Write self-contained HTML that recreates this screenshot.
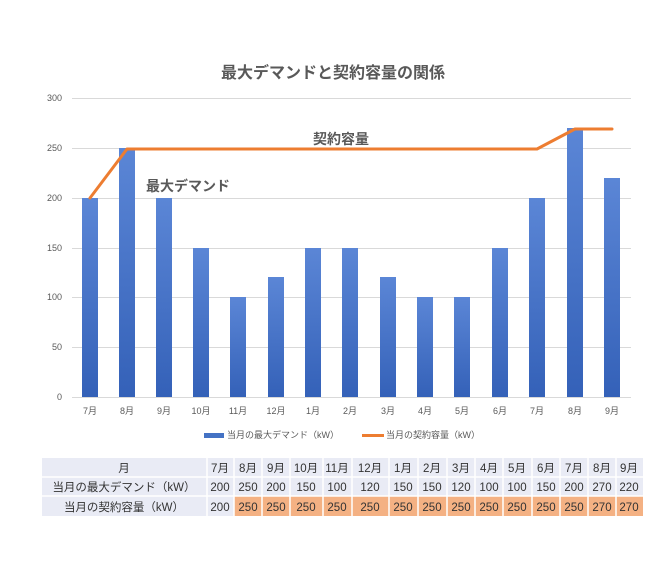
<!DOCTYPE html>
<html><head><meta charset="utf-8"><style>
html,body{margin:0;padding:0;background:#fff}
svg{display:block;font-family:"Liberation Sans","Noto Sans CJK JP",sans-serif}
</style></head><body>
<svg width="667" height="563" viewBox="0 0 667 563">
<defs>
<linearGradient id="bg" x1="0" y1="0" x2="0" y2="1">
<stop offset="0" stop-color="#5b86d6"/><stop offset="1" stop-color="#3461b8"/>
</linearGradient>
</defs>
<text x="333" y="78" text-anchor="middle" font-size="16" font-weight="bold" fill="#595959">最大デマンドと契約容量の関係</text>
<g stroke="#d9d9d9" stroke-width="1">
<line x1="72" x2="631" y1="98.5" y2="98.5"/>
<line x1="72" x2="631" y1="148.5" y2="148.5"/>
<line x1="72" x2="631" y1="198.5" y2="198.5"/>
<line x1="72" x2="631" y1="248.5" y2="248.5"/>
<line x1="72" x2="631" y1="297.5" y2="297.5"/>
<line x1="72" x2="631" y1="347.5" y2="347.5"/>
<line x1="72" x2="631" y1="397.5" y2="397.5"/>
</g>
<g font-size="9" fill="#595959" text-anchor="end">
<text x="62" y="101">300</text><text x="62" y="151">250</text><text x="62" y="201">200</text>
<text x="62" y="251">150</text><text x="62" y="300">100</text><text x="62" y="350">50</text><text x="62" y="400">0</text>
</g>
<g fill="url(#bg)">
<rect x="82" y="198" width="16" height="199"/>
<rect x="119" y="148" width="16" height="249"/>
<rect x="156" y="198" width="16" height="199"/>
<rect x="193" y="248" width="16" height="149"/>
<rect x="230" y="297" width="16" height="100"/>
<rect x="268" y="277" width="16" height="120"/>
<rect x="305" y="248" width="16" height="149"/>
<rect x="342" y="248" width="16" height="149"/>
<rect x="380" y="277" width="16" height="120"/>
<rect x="417" y="297" width="16" height="100"/>
<rect x="454" y="297" width="16" height="100"/>
<rect x="492" y="248" width="16" height="149"/>
<rect x="529" y="198" width="16" height="199"/>
<rect x="567" y="128" width="16" height="269"/>
<rect x="604" y="178" width="16" height="219"/>
</g>
<polyline points="90,198 127,149 537,149 575,129 612,129" fill="none" stroke="#ed7d31" stroke-width="3" stroke-linejoin="round" stroke-linecap="round"/>
<text x="341" y="144" text-anchor="middle" font-size="14" font-weight="bold" fill="#595959">契約容量</text>
<text x="188" y="191" text-anchor="middle" font-size="14" font-weight="bold" fill="#595959">最大デマンド</text>
<g font-size="9" fill="#595959" text-anchor="middle">
<text x="90" y="414">7月</text><text x="127" y="414">8月</text><text x="164" y="414">9月</text>
<text x="201" y="414">10月</text><text x="238" y="414">11月</text><text x="276" y="414">12月</text>
<text x="313" y="414">1月</text><text x="350" y="414">2月</text><text x="388" y="414">3月</text>
<text x="425" y="414">4月</text><text x="462" y="414">5月</text><text x="500" y="414">6月</text>
<text x="537" y="414">7月</text><text x="575" y="414">8月</text><text x="612" y="414">9月</text>
</g>
<rect x="204" y="433" width="20" height="5" fill="#4472c4"/>
<text x="227" y="438" font-size="9" fill="#595959">当月の最大デマンド（kW）</text>
<line x1="362" x2="384" y1="435.5" y2="435.5" stroke="#ed7d31" stroke-width="3"/>
<text x="386" y="438" font-size="9" fill="#595959">当月の契約容量（kW）</text>

<g id="tbl">
<rect x="42" y="458" width="601" height="58" fill="#e9ebf5"/>
<rect x="234" y="496" width="409" height="20" fill="#f4b183"/>
<g stroke="#fff" stroke-width="1.5">
<line x1="42" x2="643" y1="477" y2="477"/><line x1="42" x2="643" y1="496" y2="496"/>
<line x1="207" x2="207" y1="458" y2="516"/><line x1="234" x2="234" y1="458" y2="516"/>
<line x1="262" x2="262" y1="458" y2="516"/><line x1="290" x2="290" y1="458" y2="516"/>
<line x1="323" x2="323" y1="458" y2="516"/><line x1="352" x2="352" y1="458" y2="516"/>
<line x1="389" x2="389" y1="458" y2="516"/><line x1="418" x2="418" y1="458" y2="516"/>
<line x1="447" x2="447" y1="458" y2="516"/><line x1="475" x2="475" y1="458" y2="516"/>
<line x1="503" x2="503" y1="458" y2="516"/><line x1="532" x2="532" y1="458" y2="516"/>
<line x1="560" x2="560" y1="458" y2="516"/><line x1="588" x2="588" y1="458" y2="516"/>
<line x1="616" x2="616" y1="458" y2="516"/>
</g>
<g font-size="11.5" fill="#333" text-anchor="middle">
<text x="124" y="472">月</text>
<text x="124" y="491">当月の最大デマンド（kW）</text>
<text x="124" y="511">当月の契約容量（kW）</text>
<text x="220" y="472">7月</text><text x="248" y="472">8月</text><text x="276" y="472">9月</text>
<text x="306" y="472">10月</text><text x="337" y="472">11月</text><text x="370" y="472">12月</text>
<text x="403" y="472">1月</text><text x="432" y="472">2月</text><text x="461" y="472">3月</text>
<text x="489" y="472">4月</text><text x="517" y="472">5月</text><text x="546" y="472">6月</text>
<text x="574" y="472">7月</text><text x="602" y="472">8月</text><text x="629" y="472">9月</text>
<text x="220" y="491">200</text><text x="248" y="491">250</text><text x="276" y="491">200</text>
<text x="306" y="491">150</text><text x="337" y="491">100</text><text x="370" y="491">120</text>
<text x="403" y="491">150</text><text x="432" y="491">150</text><text x="461" y="491">120</text>
<text x="489" y="491">100</text><text x="517" y="491">100</text><text x="546" y="491">150</text>
<text x="574" y="491">200</text><text x="602" y="491">270</text><text x="629" y="491">220</text>
<text x="220" y="511">200</text><text x="248" y="511">250</text><text x="276" y="511">250</text>
<text x="306" y="511">250</text><text x="337" y="511">250</text><text x="370" y="511">250</text>
<text x="403" y="511">250</text><text x="432" y="511">250</text><text x="461" y="511">250</text>
<text x="489" y="511">250</text><text x="517" y="511">250</text><text x="546" y="511">250</text>
<text x="574" y="511">250</text><text x="602" y="511">270</text><text x="629" y="511">270</text>
</g>
</g>
</svg>
</body></html>
